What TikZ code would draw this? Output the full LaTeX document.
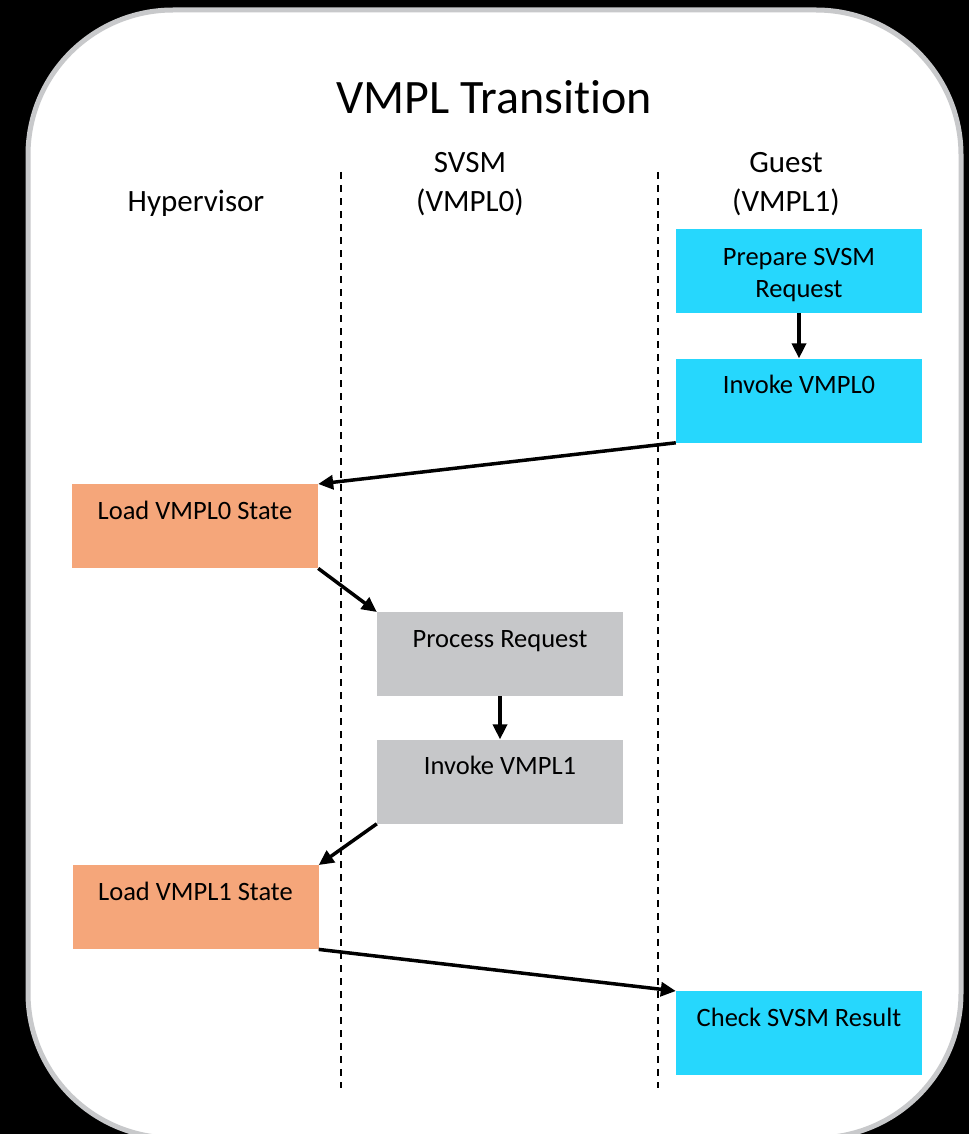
\documentclass[tikz,border=0pt]{standalone}
\usepackage{fontspec}
\setmainfont{Carlito}[Ligatures=NoCommon]
\usepackage{tikz}
\usetikzlibrary{arrows.meta}
\usetikzlibrary{positioning}

\definecolor{guestcol}{RGB}{38,215,253}
\definecolor{hvcol}{RGB}{245,166,122}
\definecolor{svsmcol}{RGB}{198,199,201}
\definecolor{framecol}{RGB}{200,201,203}

\tikzset{
	stepbox/.style={anchor=north, minimum width=246pt, inner xsep=0pt, inner ysep=0pt,
		text height=35pt, text depth=49pt, align=center, font=\fontsize{26.5}{32}\selectfont},
	flow/.style={-{Triangle[length=15pt,width=14pt]}, line width=3.5pt, black},
	lane/.style={dashed, dash pattern=on 7pt off 6pt, line width=1.8pt},
	head/.style={align=center, font=\fontsize{31}{39}\selectfont}
}

\begin{document}
\begin{tikzpicture}[x=1pt,y=-1pt]
		\useasboundingbox (0,0) rectangle (969,1134);
		\fill[black] (0,0) rectangle (969,1134);
		\draw[framecol, line width=5pt, fill=white, rounded corners=145pt] (28,10) rectangle (961,1138);
		
		\node[font=\fontsize{48}{58}\selectfont] (title) at (494,97) {VMPL Transition};
		
		% lanes
		\foreach \x/\n in {341/1, 658/2}{
			\coordinate (L-\n-top) at (\x,172);
			\coordinate (L-\n-bot) at (\x,1088);
			\draw[lane] (L-\n-top) -- (L-\n-bot);
		}
		
		\node[head] (hyper) at (196,203) {Hypervisor};
		\node[head] (svsm) at (470,184.5) {SVSM\\(VMPL0)};
		\node[head] (guest) at (786,184.5) {Guest\\(VMPL1)};
		
		% steps
		\node[stepbox, fill=guestcol, text height=68pt, text depth=16pt] (prep) at (799,229) {Prepare SVSM\\Request};
		\node[stepbox, fill=guestcol, below=45pt of prep] (inv0) {Invoke VMPL0};
		\node[stepbox, fill=hvcol] (load0) at (195,484) {Load VMPL0 State};
		\node[stepbox, fill=svsmcol] (proc) at (500,612) {Process Request};
		\node[stepbox, fill=svsmcol, below=43pt of proc.south, anchor=north] (inv1) {Invoke VMPL1};
		\node[stepbox, fill=hvcol] (load1) at (195.5,865) {Load VMPL1 State};
		\node[stepbox, fill=guestcol] (check) at (799,991) {Check SVSM Result};
		
		\draw[flow] (prep) -- (inv0);
		\draw[flow] (inv0.south west) -- (load0.north east);
		\draw[flow] (load0.south east) -- (proc.north west);
		\draw[flow] (proc) -- (inv1);
		\draw[flow] (inv1.south west) -- (load1.north east);
		\draw[flow] (load1.south east) -- (check.north west);
\end{tikzpicture}
\end{document}
